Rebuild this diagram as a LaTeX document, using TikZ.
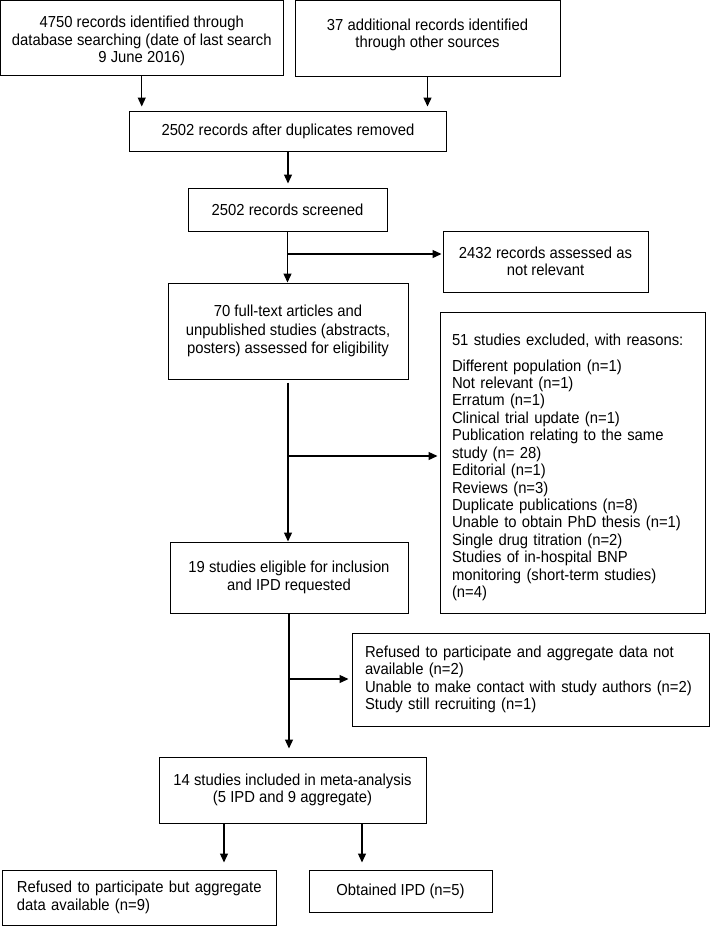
\documentclass[tikz,border=0pt]{standalone}
\usepackage{fontspec}
\setmainfont[FakeStretch=0.93]{Liberation Sans}
\usetikzlibrary{arrows.meta}
\begin{document}
\begin{tikzpicture}[x=1bp,y=-1bp,
  box/.style={draw, line width=1bp, inner sep=0pt, align=center, font=\fontsize{16}{17.5}\selectfont},
  lbox/.style={box, align=left},
  arr/.style={line width=1.3bp, -{Triangle[length=9bp,width=8bp]}}]
\useasboundingbox (0,0) rectangle (710,926);

\node[box, minimum width=282.5bp, minimum height=75bp] (A) at (141.75,37.5)
  {\rule{0pt}{19bp}4750 records identified through\\database searching (date of last search\\9 June 2016)};
\node[box, minimum width=265bp, minimum height=76bp] (B) at (427.5,38)
  {\rule{0pt}{19bp}37 additional records identified\\through other sources\\\mbox{}};
\node[box, minimum width=316bp, minimum height=40bp] (C) at (288,131)
  {2502 records after duplicates removed};
\node[box, minimum width=199bp, minimum height=43bp] (D) at (287.5,209.5)
  {2502 records screened};
\node[box, minimum width=205bp, minimum height=61bp] (F) at (545.5,261.5)
  {2432 records assessed as\\not relevant};
\node[box, minimum width=240bp, minimum height=96bp, font=\fontsize{16}{18.8}\selectfont] (E) at (288,331)
  {70 full-text articles and\\unpublished studies (abstracts,\\posters) assessed for eligibility};
\node[lbox, minimum width=265bp, minimum height=301bp, text width=241bp] (G) at (572.5,462.5)
  {\rule{0pt}{21bp}51 studies excluded, with reasons:\\[8.6bp]
   Different population (n=1)\\
   Not relevant (n=1)\\
   Erratum (n=1)\\
   Clinical trial update (n=1)\\
   Publication relating to the same\\
   study (n= 28)\\
   Editorial (n=1)\\
   Reviews (n=3)\\
   Duplicate publications (n=8)\\
   Unable to obtain PhD thesis (n=1)\\
   Single drug titration (n=2)\\
   Studies of in-hospital BNP\\
   monitoring (short-term studies)\\
   (n=4)};
\node[box, minimum width=238bp, minimum height=71bp] (I) at (289,577.5)
  {19 studies eligible for inclusion\\and IPD requested};
\node[lbox, minimum width=357bp, minimum height=93bp, text width=331bp] (K) at (530.5,679.5)
  {\mbox{Refused to participate and aggregate data not}\\
   available (n=2)\\
   \mbox{Unable to make contact with study authors (n=2)}\\
   Study still recruiting (n=1)};
\node[box, minimum width=267bp, minimum height=66bp] (H) at (292.5,790)
  {14 studies included in meta-analysis\\(5 IPD and 9 aggregate)};
\node[lbox, minimum width=273bp, minimum height=55bp, text width=245bp] (L) at (139.5,897.5)
  {\mbox{Refused to participate but aggregate}\\\mbox{data available (n=9)}};
\node[box, minimum width=183bp, minimum height=42bp] (J) at (400.5,891)
  {Obtained IPD (n=5)};

\path (0,254) coordinate (y1) (0,456) coordinate (y2) (0,679) coordinate (y3)
      (224,0) coordinate (x1) (362,0) coordinate (x2);

\draw[arr, shorten >=4bp] (A.south) -- (A.south |- C.north);
\draw[arr, shorten >=4bp] (B.south) -- (B.south |- C.north);
\draw[arr, shorten >=4bp] (C.south) -- (C.south |- D.north);
\draw[arr] (D.south) -- (D.south |- E.north);
\coordinate (b1) at (D.south |- y1);
\draw[arr, shorten >=1bp] (b1) -- (b1 -| F.west);
\draw[arr, shorten <=3bp] (E.south) -- (E.south |- I.north);
\coordinate (b2) at (E.south |- y2);
\draw[arr, shorten >=2bp] (b2) -- (b2 -| G.west);
\draw[arr, shorten >=8bp] (I.south) -- (I.south |- H.north);
\coordinate (b3) at (I.south |- y3);
\draw[arr, shorten >=3bp] (b3) -- (b3 -| K.west);
\draw[arr, shorten >=7bp] (H.south -| x1) -- (L.north -| x1);
\draw[arr, shorten >=7bp] (H.south -| x2) -- (J.north -| x2);
\end{tikzpicture}
\end{document}
